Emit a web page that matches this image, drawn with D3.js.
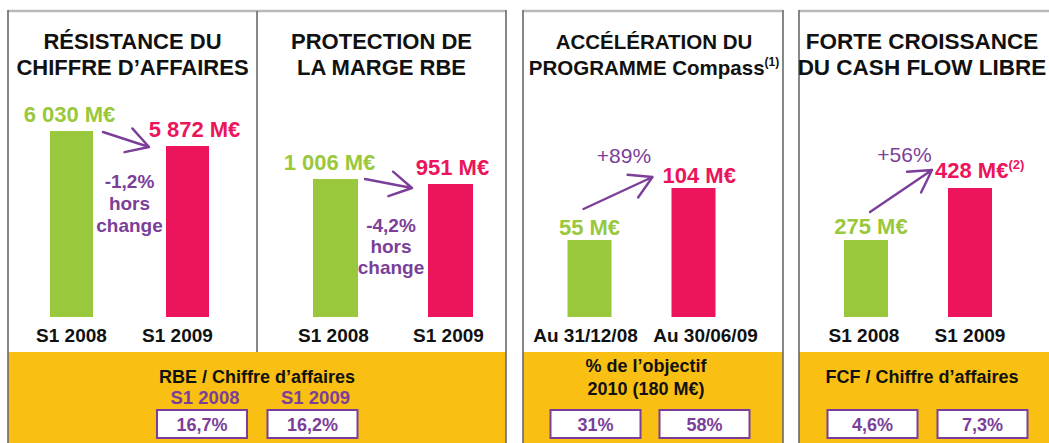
<!DOCTYPE html>
<html><head><meta charset="utf-8">
<script src="https://cdn.jsdelivr.net/npm/d3@7"></script>
<style>
body{margin:0;background:#fff}
svg{display:block}
text{font-family:"Liberation Sans",Arial,sans-serif}
</style>
</head><body><svg id="c" width="1049" height="443"></svg>
<script>
// ---------- data ----------
const titles = [["RÉSISTANCE DU","CHIFFRE D’AFFAIRES"],["PROTECTION DE","LA MARGE RBE"],["ACCÉLÉRATION DU","PROGRAMME Compass"],["FORTE CROISSANCE","DU CASH FLOW LIBRE"]];
const titleNotes = ["","","(1)",""];
const categories = [["S1 2008","S1 2009"],["S1 2008","S1 2009"],["Au 31/12/08","Au 30/06/09"],["S1 2008","S1 2009"]];
const valuesBefore = [6030,1006,55,275];
const valuesAfter = [5872,951,104,428];
const labelsBefore = ["6 030 M€","1 006 M€","55 M€","275 M€"];
const labelsAfter = ["5 872 M€","951 M€","104 M€","428 M€"];
const labelNotes = ["","","","(2)"];
const changeLabels = [["-1,2%","hors","change"],["-4,2%","hors","change"],["+89%"],["+56%"]];
const ratioTitles = [["RBE / Chiffre d’affaires"],["% de l’objectif","2010 (180 M€)"],["FCF / Chiffre d’affaires"]];
const ratioHeaders = [["S1 2008","S1 2009"],[],[]];
const ratioValues = [["16,7%","16,2%"],["31%","58%"],["4,6%","7,3%"]];

// ---------- layout / style ----------
const GREEN="#9AC83C", PINK="#EC145A", PURPLE="#7B3F9A", YELLOW="#F9C013", INK="#111";
const BASE_Y=317;
const panels=[
 {cx:132.5,ts:22,centers:[71.5,187.5],bw:43,dom:[4071,6030],rng:[BASE_Y,131],catDx:[0,-10],lblDx:[-2,7],lblDy:[-9,-9],
  tail:[31.5,1],tip:[-38.5,1],chg:{x:129.5,y:188,lh:22,w:"bold",fs:19}},
 {cx:381.5,ts:22,centers:[335.5,450.5],bw:45,dom:[-512,1006],rng:[BASE_Y,179],catDx:[-2,-2],lblDx:[-6,2],lblDy:[-9,-9],
  tail:[29.5,0],tip:[-38.5,4],chg:{x:391,y:232,lh:21,w:"bold",fs:19}},
 {cx:654,ts:20.5,centers:[589.5,693.5],bw:44,dom:[-17.6,104],rng:[BASE_Y,188],catDx:[-4,12],lblDx:[0,0],lblDy:[-5,-5],
  tail:[-6,-31],tip:[-41,-11],chg:{x:624,y:163,lh:22,w:"normal",fs:21},afterAnchor:"start",afterX:-31},
 {cx:922,ts:22.5,centers:[866,970],bw:44,dom:[48.4,428],rng:[BASE_Y,188],catDx:[-2,0],lblDx:[5,0],lblDy:[-6,-10],
  tail:[4,-28],tip:[-38,-18],chg:{x:904.5,y:162,lh:22,w:"normal",fs:21},afterAnchor:"start",afterX:-35}
];
const frames=[{x0:8,x1:506},{x0:523,x1:783},{x0:799,x1:1064}];
const bands=[
 {titleY:[383],cx:257,hdrY:404,boxes:[202,312.5]},
 {titleY:[372,395],cx:646,hdrY:404,boxes:[595.5,704.5]},
 {titleY:[383],cx:922,hdrY:404,boxes:[872.5,982.5]}
];
const BAND_TOP=352, BOX_Y=410, BOX_H=28, BOX_W=90;

const svg=d3.select("#c");

// frames + bands
frames.forEach((f,i)=>{
  svg.append("rect").attr("x",f.x0).attr("y",BAND_TOP).attr("width",f.x1-f.x0).attr("height",443-BAND_TOP).attr("fill",YELLOW);
  svg.append("line").attr("x1",f.x0).attr("x2",f.x1).attr("y1",11).attr("y2",11).attr("stroke","#b9b9b9").attr("stroke-width",2.5);
  [f.x0,f.x1].forEach(x=>svg.append("line").attr("x1",x).attr("x2",x).attr("y1",10).attr("y2",450).attr("stroke","#6a6a6a").attr("stroke-width",1.6));
});
svg.append("line").attr("x1",257).attr("x2",257).attr("y1",11).attr("y2",BAND_TOP).attr("stroke","#6a6a6a").attr("stroke-width",1.6);

// panels
panels.forEach((p,i)=>{
  const g=svg.append("g");
  const x=d3.scalePoint().domain(categories[i]).range(p.centers);
  const y=d3.scaleLinear().domain(p.dom).range(p.rng);
  const vals=[valuesBefore[i],valuesAfter[i]];
  const cols=[GREEN,PINK];
  // title
  const t=g.append("text").attr("text-anchor","middle").attr("font-weight","bold").attr("font-size",p.ts).attr("fill",INK);
  t.append("tspan").attr("x",p.cx).attr("y",49).text(titles[i][0]);
  t.append("tspan").attr("x",p.cx).attr("y",75).text(titles[i][1]);
  if(titleNotes[i]) t.append("tspan").attr("font-size",12).attr("dy",-9).text(titleNotes[i]);
  // bars
  g.selectAll("rect.bar").data(categories[i]).join("rect").attr("class","bar")
    .attr("x",c=>x(c)-p.bw/2).attr("width",p.bw)
    .attr("y",(c,j)=>y(vals[j])).attr("height",(c,j)=>y(p.dom[0])-y(vals[j]))
    .attr("fill",(c,j)=>cols[j]);
  // category labels
  g.selectAll("text.cat").data(categories[i]).join("text").attr("class","cat")
    .attr("x",(c,j)=>x(c)+p.catDx[j]).attr("y",342).attr("text-anchor","middle")
    .attr("font-weight","bold").attr("font-size",19).attr("fill",INK).text(c=>c);
  // value labels
  const labs=[labelsBefore[i],labelsAfter[i]];
  categories[i].forEach((c,j)=>{
    const anchorStart = j===1 && p.afterAnchor;
    const tx=g.append("text")
      .attr("x", anchorStart ? x(c)+p.afterX : x(c)+p.lblDx[j])
      .attr("y", y(vals[j])+p.lblDy[j])
      .attr("text-anchor", anchorStart ? "start":"middle")
      .attr("font-weight","bold").attr("font-size",22).attr("fill",cols[j]);
    tx.append("tspan").text(labs[j]);
    if(j===1 && labelNotes[i]) tx.append("tspan").attr("font-size",13).attr("dy",-9).text(labelNotes[i]);
  });
  // arrow
  const x0=x(categories[i][0]), x1=x(categories[i][1]);
  const tail=[x0+p.tail[0], y(vals[0])+p.tail[1]];
  const tip=[x1+p.tip[0], y(vals[1])+p.tip[1]];
  const ang=Math.atan2(tail[1]-tip[1], tail[0]-tip[0]);
  const L=25, A=30*Math.PI/180;
  const a1=[tip[0]+L*Math.cos(ang+A), tip[1]+L*Math.sin(ang+A)];
  const a2=[tip[0]+L*Math.cos(ang-A), tip[1]+L*Math.sin(ang-A)];
  const line=d3.line();
  g.append("path").attr("d",line([tail,tip])+line([a1,tip,a2]))
    .attr("fill","none").attr("stroke",PURPLE).attr("stroke-width",2.4)
    .attr("stroke-linecap","round").attr("stroke-linejoin","round");
  // change labels
  g.selectAll("text.chg").data(changeLabels[i]).join("text").attr("class","chg")
    .attr("x",p.chg.x).attr("y",(d,k)=>p.chg.y+k*p.chg.lh).attr("text-anchor","middle")
    .attr("font-weight",p.chg.w).attr("font-size",p.chg.fs).attr("fill",PURPLE).text(d=>d);
});

// bottom ratio bands
bands.forEach((b,i)=>{
  const g=svg.append("g");
  g.selectAll("text.rt").data(ratioTitles[i]).join("text").attr("class","rt")
    .attr("x",b.cx).attr("y",(d,k)=>b.titleY[k]).attr("text-anchor","middle")
    .attr("font-weight","bold").attr("font-size",18).attr("fill",INK).text(d=>d);
  g.selectAll("text.rh").data(ratioHeaders[i]).join("text").attr("class","rh")
    .attr("x",(d,k)=>b.boxes[k]+3).attr("y",b.hdrY).attr("text-anchor","middle")
    .attr("font-weight","bold").attr("font-size",18.5).attr("fill",PURPLE).text(d=>d);
  g.selectAll("rect.box").data(ratioValues[i]).join("rect").attr("class","box")
    .attr("x",(d,k)=>b.boxes[k]-BOX_W/2).attr("y",BOX_Y).attr("width",BOX_W).attr("height",BOX_H)
    .attr("fill","#fff").attr("stroke",PURPLE).attr("stroke-width",2);
  g.selectAll("text.rv").data(ratioValues[i]).join("text").attr("class","rv")
    .attr("x",(d,k)=>b.boxes[k]).attr("y",431).attr("text-anchor","middle")
    .attr("font-weight","bold").attr("font-size",18).attr("fill",PURPLE).text(d=>d);
});
</script>
</body></html>
